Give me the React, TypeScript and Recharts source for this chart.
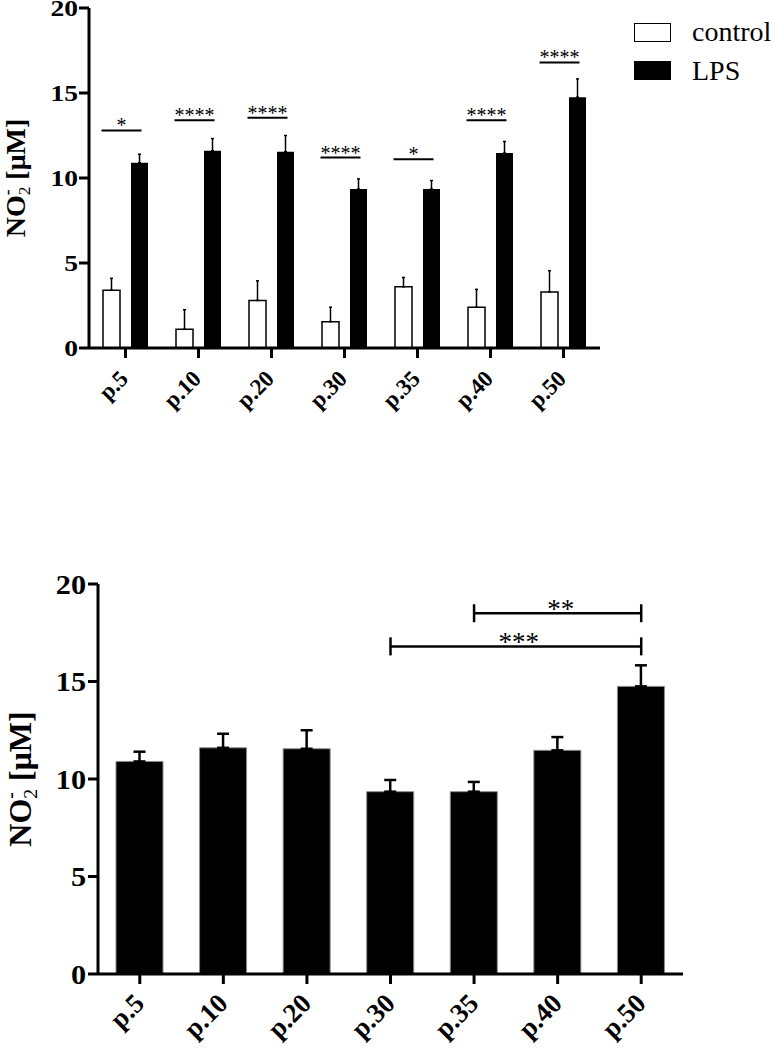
import { BarChart, Bar, XAxis, YAxis, ErrorBar, ReferenceDot, ReferenceLine, Legend, Label } from 'recharts';

const SERIF = '"Liberation Serif", "Times New Roman", serif';

const passages = ['p.5', 'p.10', 'p.20', 'p.30', 'p.35', 'p.40', 'p.50'];
const controlMean = [3.4, 1.1, 2.8, 1.55, 3.6, 2.4, 3.3];
const controlSd = [0.7, 1.15, 1.15, 0.85, 0.55, 1.05, 1.25];
const lpsMean = [10.9, 11.6, 11.55, 9.35, 9.35, 11.47, 14.75];
const lpsSd = [0.5, 0.72, 0.95, 0.6, 0.5, 0.68, 1.08];
const yTicks = [0, 5, 10, 15, 20];
const seriesNames = ['control', 'LPS'];

// control vs LPS per passage (top panel)
const sigLabels = ['*', '****', '****', '****', '*', '****', '****'];
const sigLevels = [12.8, 13.4, 13.55, 11.2, 11.1, 13.4, 16.8];

// LPS comparisons between passages (bottom panel)
const brackets = [
  { from: 'p.35', to: 'p.50', level: 18.5, label: '**' },
  { from: 'p.30', to: 'p.50', level: 16.8, label: '***' },
];

const data = passages.map((p, i) => ({
  passage: p,
  control: controlMean[i],
  controlSd: controlSd[i],
  lps: lpsMean[i],
  lpsSd: lpsSd[i],
}));

const YTick = ({ x, y, payload, fontSize, sx }: any) => (
  <text
    transform={`translate(${x},${y}) scale(${sx},1)`}
    dy="0.34em"
    textAnchor="end"
    fontFamily={SERIF}
    fontWeight="bold"
    fontSize={fontSize}
  >
    {payload.value}
  </text>
);

const XTick = ({ x, y, payload, fontSize, ox, oy }: any) => (
  <text
    transform={`translate(${x + ox},${y + oy}) rotate(-45)`}
    textAnchor="end"
    fontFamily={SERIF}
    fontWeight="bold"
    fontSize={fontSize}
  >
    {payload.value}
  </text>
);

const AxisTitle = ({ viewBox, fontSize, dx }: any) => {
  const cx = viewBox.x + dx;
  const cy = viewBox.y + viewBox.height / 2;
  const small = fontSize * 0.62;
  return (
    <text
      transform={`translate(${cx},${cy}) rotate(-90)`}
      textAnchor="middle"
      fontFamily={SERIF}
      fontWeight="bold"
      fontSize={fontSize}
    >
      NO
      <tspan fontSize={small} fontWeight="normal" dy={fontSize * 0.18}>2</tspan>
      <tspan fontSize={small} fontWeight="bold" dx={-small * 0.5} dy={-fontSize * 0.62}>-</tspan>
      <tspan dx={fontSize * 0.1} dy={fontSize * 0.44}> [μM]</tspan>
    </text>
  );
};

const SigMark = ({ cx, cy, label }: any) => (
  <g>
    <line x1={cx - 24} x2={cx + 16} y1={cy} y2={cy} stroke="#000" strokeWidth={2} />
    <text x={cx - 4} y={cy + 2} textAnchor="middle" fontFamily={SERIF} fontSize={20}>
      {label}
    </text>
  </g>
);

const Bracket = ({ x1, y1, x2, y2, label }: any) => (
  <g stroke="#000" strokeWidth={2.5}>
    <line x1={x1} x2={x2} y1={y1} y2={y2} />
    <line x1={x1} x2={x1} y1={y1 - 9} y2={y1 + 9} />
    <line x1={x2} x2={x2} y1={y2 - 9} y2={y2 + 9} />
    <text
      x={(x1 + x2) / 2 + 3}
      y={y1 + 5}
      textAnchor="middle"
      fontFamily={SERIF}
      fontSize={27}
      stroke="none"
      fill="#000"
    >
      {label}
    </text>
  </g>
);

const LegendBox = () => (
  <div style={{ fontFamily: SERIF, fontSize: 28, lineHeight: '38px' }}>
    {seriesNames.map((name, i) => (
      <div key={name} style={{ display: 'flex', alignItems: 'center', height: 38.5 }}>
        <span
          style={{
            display: 'inline-block',
            width: 37,
            height: 19,
            boxSizing: 'border-box',
            border: '1.5px solid #000',
            background: i === 0 ? '#fff' : '#000',
            marginRight: 21,
          }}
        />
        <span>{name}</span>
      </div>
    ))}
  </div>
);

const axisStyle = { stroke: '#000', strokeWidth: 3 };

export default function App() {
  return (
    <div style={{ position: 'absolute', left: 0, top: 0, width: 775, height: 1049, background: '#fff' }}>
      <div style={{ position: 'absolute', left: 0, top: 0 }}>
        <BarChart
          width={775}
          height={418}
          data={data}
          margin={{ top: 8, right: 175, bottom: 10, left: 0 }}
          barSize={17}
          barGap={11}
        >
          <XAxis
            dataKey="passage"
            interval={0}
            height={60}
            axisLine={axisStyle}
            tickLine={axisStyle}
            tickSize={10}
            tickMargin={2}
            tick={<XTick fontSize={23} ox={4} oy={20} />}
          />
          <YAxis
            type="number"
            domain={[0, 20]}
            ticks={yTicks}
            interval={0}
            width={89}
            axisLine={axisStyle}
            tickLine={axisStyle}
            tickSize={10}
            tickMargin={1}
            tick={<YTick fontSize={24} sx={1.15} />}
          >
            <Label content={<AxisTitle fontSize={28} dx={25} />} />
          </YAxis>
          <Legend
            layout="horizontal"
            align="center"
            verticalAlign="middle"
            wrapperStyle={{ left: 634, top: 13, width: 141 }}
            content={<LegendBox />}
          />
          <Bar dataKey="control" fill="#fff" stroke="#000" strokeWidth={1.5} isAnimationActive={false}>
            <ErrorBar dataKey={(d: any) => [0, d.controlSd]} width={1.5} stroke="#000" strokeWidth={1.5} direction="y" />
          </Bar>
          <Bar dataKey="lps" fill="#000" isAnimationActive={false}>
            <ErrorBar dataKey={(d: any) => [0, d.lpsSd]} width={1.5} stroke="#000" strokeWidth={1.5} direction="y" />
          </Bar>
          {passages.map((p, i) => (
            <ReferenceDot
              key={p}
              x={p}
              y={sigLevels[i]}
              shape={(props: any) => <SigMark {...props} label={sigLabels[i]} />}
            />
          ))}
        </BarChart>
      </div>

      <div style={{ position: 'absolute', left: 0, top: 560 }}>
        <BarChart
          width={775}
          height={489}
          data={data}
          margin={{ top: 24, right: 92, bottom: 5, left: 0 }}
          barSize={47}
        >
          <XAxis
            dataKey="passage"
            interval={0}
            height={70}
            axisLine={axisStyle}
            tickLine={axisStyle}
            tickSize={10}
            tickMargin={2}
            tick={<XTick fontSize={27} ox={6} oy={19} />}
          />
          <YAxis
            type="number"
            domain={[0, 20]}
            ticks={yTicks}
            interval={0}
            width={98}
            axisLine={axisStyle}
            tickLine={axisStyle}
            tickSize={10}
            tickMargin={2}
            tick={<YTick fontSize={28} sx={1.08} />}
          >
            <Label content={<AxisTitle fontSize={32} dx={31} />} />
          </YAxis>
          <Bar dataKey="lps" fill="#000" stroke="#8a8a8a" strokeWidth={1} isAnimationActive={false}>
            <ErrorBar dataKey={(d: any) => [0, d.lpsSd]} width={6} stroke="#000" strokeWidth={2.5} direction="y" />
          </Bar>
          {brackets.map((b) => (
            <ReferenceLine
              key={b.label}
              segment={[
                { x: b.from, y: b.level },
                { x: b.to, y: b.level },
              ]}
              shape={(props: any) => <Bracket {...props} label={b.label} />}
            />
          ))}
        </BarChart>
      </div>
    </div>
  );
}
